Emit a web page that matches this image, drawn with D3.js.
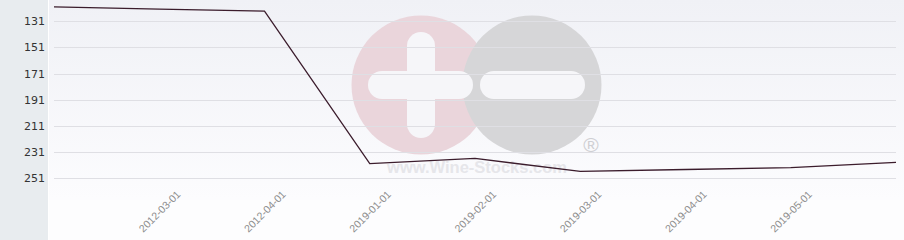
<!DOCTYPE html>
<html>
<meta charset="utf-8">
<head>
  <title>Rank chart</title>
</head>
<style>
body { margin: 0; background: #fff; }
svg { display: block; font-family: "DejaVu Sans", sans-serif; }
</style>
<body>
  <div id="content">
    <svg width="904" height="240"></svg>
  </div>

<script src="https://d3js.org/d3.v7.min.js"></script>
<script>
var width = 904, height = 240

// data (edge points have no visible label)
var dates = ['2012-02-01', '2012-03-01', '2012-04-01', '2019-01-01', '2019-02-01',
             '2019-03-01', '2019-04-01', '2019-05-01', '2019-06-01']
var ranks = [120, 121.6, 123.2, 240, 236, 246, 244.5, 243, 239]
var shownLabels = ['2012-03-01', '2012-04-01', '2019-01-01', '2019-02-01',
                   '2019-03-01', '2019-04-01', '2019-05-01']
var yTicks = [131, 151, 171, 191, 211, 231, 251]

var svg = d3.select('svg')

var defs = svg.append('defs')
var grad = defs.append('linearGradient')
  .attr('id', 'bg').attr('x1', 0).attr('y1', 0).attr('x2', 0).attr('y2', 1)
grad.append('stop').attr('offset', '0%').attr('stop-color', '#f0f1f6')
grad.append('stop').attr('offset', '100%').attr('stop-color', '#fcfcfe')

// background
svg.append('rect').attr('x', 49).attr('y', 0).attr('width', width - 49).attr('height', 200)
  .attr('fill', 'url(#bg)')
svg.append('rect').attr('x', 49).attr('y', 200).attr('width', width - 49).attr('height', 40)
  .attr('fill', '#fdfdfe')
svg.append('rect').attr('x', 0).attr('y', 0).attr('width', 48).attr('height', height)
  .attr('fill', '#e8ecef')

var x = d3.scalePoint().domain(dates).range([54, 896])
var y = d3.scaleLinear().domain([131, 251]).range([21.3, 178])

// watermark
var wm = svg.append('g')
wm.append('circle').attr('cx', 421).attr('cy', 85).attr('r', 69.5).attr('fill', '#ead5db')
wm.append('circle').attr('cx', 532).attr('cy', 85).attr('r', 69.5).attr('fill', '#d6d6d8')
wm.append('rect').attr('x', 368).attr('y', 71).attr('width', 105).attr('height', 28)
  .attr('rx', 14).attr('fill', '#f6f6f9')
wm.append('rect').attr('x', 407).attr('y', 32).attr('width', 28).attr('height', 106)
  .attr('rx', 14).attr('fill', '#f6f6f9')
wm.append('rect').attr('x', 480).attr('y', 71).attr('width', 105).attr('height', 28)
  .attr('rx', 14).attr('fill', '#f6f6f9')
wm.append('text').attr('x', 591).attr('y', 152).attr('text-anchor', 'middle')
  .attr('font-family', '"Liberation Sans", Arial, sans-serif')
  .attr('font-size', 21).attr('fill', '#cfcfd3').text('®')
wm.append('text').attr('x', 477).attr('y', 173).attr('text-anchor', 'middle')
  .attr('font-family', '"Liberation Sans", Arial, sans-serif')
  .attr('font-size', 16.5).attr('font-weight', 'bold').attr('fill', '#e6e6ea')
  .text('www.Wine-Stocks.com')

// grid
svg.append('g').selectAll('line').data(yTicks).enter().append('line')
  .attr('x1', 54).attr('x2', 896)
  .attr('y1', function(d) { return Math.round(y(d)) + 0.5 })
  .attr('y2', function(d) { return Math.round(y(d)) + 0.5 })
  .attr('stroke', '#dfdfe4').attr('stroke-width', 1)

// y labels
svg.append('g').selectAll('text').data(yTicks).enter().append('text')
  .attr('x', 45).attr('y', function(d) { return y(d) + 4 })
  .attr('text-anchor', 'end').attr('font-size', 11).attr('fill', '#333')
  .text(function(d) { return d })

// x labels
svg.append('g').selectAll('text').data(shownLabels).enter().append('text')
  .attr('text-anchor', 'end').attr('font-size', 10.5).attr('fill', '#8c8c8c')
  .attr('font-family', '"Liberation Sans", Arial, sans-serif')
  .attr('transform', function(d) { return 'translate(' + (x(d) + 22) + ',195) rotate(-45)' })
  .text(function(d) { return d })

// line
var line = d3.line()
  .x(function(d, i) { return x(dates[i]) })
  .y(function(d) { return y(d) })

svg.append('path').datum(ranks)
  .attr('d', line)
  .attr('fill', 'none').attr('stroke', '#3b1c2c').attr('stroke-width', 1.3)
</script>
</body>
</html>
